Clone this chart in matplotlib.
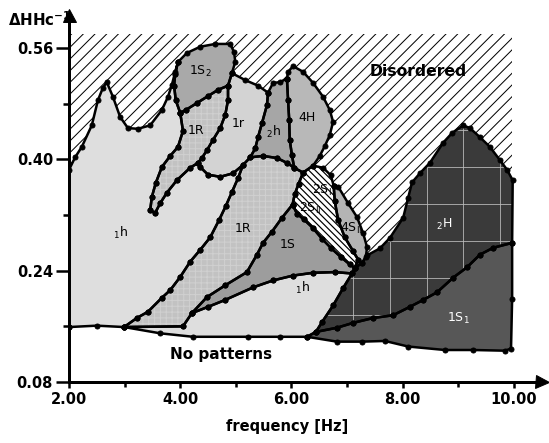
import numpy as np
import matplotlib
matplotlib.use('Agg')
import matplotlib.pyplot as plt
from matplotlib.patches import Polygon, Rectangle

DPI = 70


def px(v):
    # pixel size -> points at this dpi
    return v * 72 / DPI


# region outlines as (frequency [Hz], dH/Hc)
h1_left = [(2.00, 0.159), (2.00, 0.385), (2.11, 0.403), (2.23, 0.418), (2.41, 0.449), (2.52, 0.485),
           (2.61, 0.503), (2.68, 0.511), (2.79, 0.490), (2.92, 0.461), (3.06, 0.445), (3.24, 0.444),
           (3.46, 0.449), (3.67, 0.471), (3.78, 0.490), (3.85, 0.507), (3.91, 0.526), (3.96, 0.540),
           (3.91, 0.523), (3.89, 0.506), (3.92, 0.485), (4.00, 0.467),
           (4.05, 0.441), (3.96, 0.418), (3.82, 0.405), (3.67, 0.389), (3.56, 0.366), (3.49, 0.346),
           (3.46, 0.327), (3.55, 0.323), (3.64, 0.337), (3.76, 0.352), (3.94, 0.370), (4.18, 0.388),
           (4.32, 0.395), (4.36, 0.389), (4.50, 0.378), (4.72, 0.375), (4.95, 0.380), (5.13, 0.392),
           (5.04, 0.373), (4.93, 0.353), (4.82, 0.333), (4.70, 0.313), (4.54, 0.288), (4.36, 0.270),
           (4.18, 0.253), (4.00, 0.231), (3.82, 0.212), (3.67, 0.201), (3.42, 0.181), (3.22, 0.172),
           (2.99, 0.159), (2.50, 0.161)]

s1_2 = [(3.96, 0.540), (4.12, 0.553), (4.36, 0.562), (4.63, 0.566), (4.90, 0.566), (4.97, 0.554),
        (4.99, 0.540), (4.93, 0.524), (4.86, 0.506), (4.68, 0.500), (4.50, 0.491), (4.30, 0.481),
        (4.10, 0.471), (4.00, 0.467), (3.92, 0.485), (3.89, 0.506), (3.91, 0.523)]

r1_up = [(4.00, 0.467), (4.10, 0.471), (4.30, 0.481), (4.50, 0.491), (4.68, 0.500), (4.86, 0.506),
         (4.86, 0.485), (4.81, 0.464), (4.72, 0.445), (4.59, 0.428), (4.48, 0.413), (4.39, 0.402),
         (4.32, 0.395), (4.18, 0.388), (3.94, 0.370), (3.76, 0.352), (3.64, 0.337), (3.55, 0.323),
         (3.46, 0.327), (3.49, 0.346), (3.56, 0.366), (3.67, 0.389), (3.82, 0.405), (3.96, 0.418),
         (4.05, 0.441)]

r1_small = [(4.93, 0.524), (5.17, 0.514), (5.40, 0.506), (5.58, 0.496), (5.56, 0.478), (5.47, 0.452),
            (5.40, 0.432), (5.35, 0.416), (5.26, 0.403), (5.13, 0.392), (4.95, 0.380), (4.72, 0.375),
            (4.50, 0.378), (4.36, 0.389), (4.32, 0.395), (4.39, 0.402), (4.48, 0.413), (4.59, 0.428),
            (4.72, 0.445), (4.81, 0.464), (4.86, 0.485), (4.86, 0.506)]

h2_small = [(5.58, 0.496), (5.67, 0.510), (5.79, 0.511), (5.92, 0.516), (5.94, 0.485), (5.96, 0.457),
            (5.97, 0.428), (6.01, 0.406), (6.05, 0.388), (5.92, 0.395), (5.74, 0.402), (5.49, 0.405),
            (5.26, 0.403), (5.35, 0.416), (5.40, 0.432), (5.47, 0.452), (5.56, 0.478)]

h4 = [(5.92, 0.516), (5.94, 0.526), (6.03, 0.534), (6.21, 0.526), (6.39, 0.510), (6.57, 0.490),
      (6.69, 0.471), (6.75, 0.454), (6.69, 0.435), (6.60, 0.419), (6.51, 0.405), (6.39, 0.391),
      (6.21, 0.381), (6.05, 0.388), (6.01, 0.406), (5.97, 0.428), (5.96, 0.457), (5.94, 0.485)]

r1_low = [(2.99, 0.159), (3.22, 0.172), (3.42, 0.181), (3.67, 0.201), (3.82, 0.212), (4.00, 0.231),
          (4.18, 0.253), (4.36, 0.270), (4.54, 0.288), (4.70, 0.313), (4.82, 0.333), (4.93, 0.353),
          (5.04, 0.373), (5.13, 0.392), (5.26, 0.403), (5.49, 0.405), (5.74, 0.402), (5.92, 0.395),
          (6.05, 0.388), (6.21, 0.381), (6.13, 0.365), (6.06, 0.350), (6.02, 0.335), (5.83, 0.316),
          (5.65, 0.296), (5.49, 0.280), (5.38, 0.263), (5.20, 0.238), (4.81, 0.219), (4.48, 0.202),
          (4.21, 0.179), (4.05, 0.160)]

s1 = [(4.21, 0.179), (4.48, 0.202), (4.81, 0.219), (5.20, 0.238), (5.38, 0.263), (5.49, 0.280),
      (5.65, 0.296), (5.83, 0.316), (6.02, 0.335), (6.10, 0.322), (6.22, 0.314), (6.38, 0.302),
      (6.55, 0.286), (6.72, 0.272), (6.90, 0.259), (7.05, 0.249), (7.14, 0.244), (7.09, 0.236),
      (6.78, 0.238), (6.39, 0.237), (6.03, 0.233), (5.67, 0.226), (5.31, 0.216), (4.81, 0.198),
      (4.50, 0.188)]

s2 = [(6.02, 0.335), (6.06, 0.350), (6.13, 0.365), (6.21, 0.381), (6.39, 0.391), (6.57, 0.388),
      (6.71, 0.377), (6.76, 0.362), (6.78, 0.340), (6.84, 0.313), (6.96, 0.288), (7.11, 0.268),
      (7.20, 0.256), (7.14, 0.244), (7.05, 0.249), (6.90, 0.259), (6.72, 0.272), (6.55, 0.286),
      (6.38, 0.302), (6.22, 0.314), (6.10, 0.322)]

s4 = [(6.76, 0.362), (6.84, 0.361), (7.02, 0.337), (7.18, 0.317), (7.29, 0.294), (7.36, 0.274),
      (7.34, 0.260), (7.27, 0.251), (7.14, 0.244), (7.20, 0.256), (7.11, 0.268), (6.96, 0.288),
      (6.84, 0.313), (6.78, 0.340)]

h2_big = [(6.44, 0.152), (6.55, 0.166), (6.75, 0.190), (6.93, 0.215), (7.09, 0.236), (7.14, 0.244),
          (7.27, 0.251), (7.36, 0.262), (7.59, 0.272), (7.77, 0.287), (8.01, 0.316), (8.10, 0.345),
          (8.17, 0.367), (8.31, 0.380), (8.49, 0.395), (8.73, 0.424), (8.89, 0.438), (9.09, 0.449),
          (9.21, 0.445), (9.39, 0.432), (9.57, 0.418), (9.75, 0.399), (9.88, 0.385), (9.98, 0.370),
          (9.97, 0.280), (9.63, 0.273), (9.39, 0.263), (9.16, 0.245), (8.91, 0.230), (8.62, 0.209),
          (8.37, 0.198), (8.13, 0.188), (7.83, 0.176), (7.47, 0.172), (7.11, 0.165), (6.82, 0.158)]

s1_1 = [(6.28, 0.145), (6.44, 0.152), (6.82, 0.158), (7.11, 0.165), (7.47, 0.172), (7.83, 0.176),
        (8.13, 0.188), (8.37, 0.198), (8.62, 0.209), (8.91, 0.230), (9.16, 0.245), (9.39, 0.263),
        (9.63, 0.273), (9.97, 0.280), (9.97, 0.200), (9.95, 0.128), (9.84, 0.125), (9.27, 0.126),
        (8.76, 0.126), (8.10, 0.131), (7.68, 0.139), (7.27, 0.138), (6.82, 0.138)]

h1_low = [(2.99, 0.159), (4.05, 0.160), (4.21, 0.179), (4.50, 0.188), (4.81, 0.198), (5.31, 0.216),
          (5.67, 0.226), (6.03, 0.233), (6.39, 0.237), (6.78, 0.238), (7.09, 0.236), (6.93, 0.215),
          (6.75, 0.190), (6.55, 0.166), (6.44, 0.152), (6.28, 0.145), (5.80, 0.145), (5.22, 0.145),
          (4.23, 0.145), (3.64, 0.150)]

# label text and position
labels = ['$_1$h', '1R', '1S$_2$', '1r', '$_2$h', '4H', '1R', '1S', '2S$_{\\rm I}$', '2S$_{\\rm II}$',
          '4S$_{\\rm II}$', '$_1$h']
label_f = [2.92, 4.28, 4.37, 5.04, 5.67, 6.28, 5.13, 5.94, 6.55, 6.33, 7.07, 6.19]
label_h = [0.294, 0.442, 0.526, 0.451, 0.439, 0.460, 0.301, 0.277, 0.355, 0.330, 0.301, 0.215]
dark_labels = ['$_2$H', '1S$_1$']
dark_f = [8.74, 9.00]
dark_h = [0.307, 0.172]

x_ticks = [2, 4, 6, 8, 10]
x_minor = [3, 5, 7, 9]
y_ticks = [0.08, 0.24, 0.40, 0.56]
y_minor = [0.16, 0.32, 0.48]

plt.rcParams['hatch.linewidth'] = px(1.0)
plt.rcParams['font.family'] = 'DejaVu Sans'

fig = plt.figure(figsize=(549 / DPI, 443 / DPI), dpi=DPI)
ax = fig.add_axes([69 / 549, 61 / 443, 473 / 549, 367 / 443])
ax.set_xlim(2.0, 10.507)
ax.set_ylim(0.08, 0.6076)

# one pixel in data units, for 45 degree hatch lines
fx = (10.507 - 2.0) / 473
fy = (0.6076 - 0.08) / 367


def hatch_lines(patch, step_px, sign, lw, z):
    # diagonal lines at 45 degrees on screen, clipped to the patch
    k = sign * fy / fx
    for c in np.arange(-8.0, 18.0, step_px * fx):
        ln, = ax.plot([0.0, 12.0], [0.08 + k * (0.0 - c), 0.08 + k * (12.0 - c)],
                      color='black', lw=lw, zorder=z, solid_capstyle='butt')
        ln.set_clip_path(patch)


# disordered background
dis = Rectangle((2.0, 0.165), 7.96, 0.415, facecolor='white', lw=0, zorder=1)
ax.add_patch(dis)
hatch_lines(dis, 11.7, 1, px(1.0), 1.2)


def region(pts, face, hatch=None, hcolor='black'):
    p = Polygon(pts, closed=True, facecolor=face, edgecolor=hcolor if hatch else face,
                hatch=hatch, lw=0, zorder=2)
    ax.add_patch(p)
    xs = [q[0] for q in pts] + [pts[0][0]]
    ys = [q[1] for q in pts] + [pts[0][1]]
    ax.plot(xs, ys, color='black', lw=px(2.5), marker='o', ms=px(5), zorder=3)
    return p


region(h1_left, '#dedede')
region(h1_low, '#dedede')
region(r1_low, '#c2c2c2', '++', '#d0d0d0')
region(r1_up, '#c2c2c2', '++', '#d0d0d0')
region(s1_2, '#a9a9a9')
region(r1_small, '#d3d3d3')
region(h2_small, '#a6a6a6')
region(h4, '#b8b8b8')
region(s1, '#9d9d9d')
p2S = region(s2, 'white')
hatch_lines(p2S, 6.5, -1, px(1.2), 2.2)
region(s4, '#b4b4b4')
p2H = region(h2_big, '#3a3a3a')
region(s1_1, '#575757')

# light grid inside 2H
for gx in np.arange(7.10, 10.0, 0.665):
    ax.axvline(gx, color='#bdbdbd', lw=px(0.8), zorder=2.5, clip_path=p2H)
for gy in np.arange(0.177, 0.45, 0.053):
    ax.axhline(gy, color='#bdbdbd', lw=px(0.8), zorder=2.5, clip_path=p2H)

for s, x, y in zip(labels, label_f, label_h):
    ax.text(x, y, s, ha='center', va='center', fontsize=px(12.5), color='black', zorder=4)
for s, x, y in zip(dark_labels, dark_f, dark_h):
    ax.text(x, y, s, ha='center', va='center', fontsize=px(12.5), color='white', zorder=4)

ax.text(8.28, 0.526, 'Disordered', ha='center', va='center', fontsize=px(15.6),
        fontweight='bold', zorder=4)
ax.text(4.73, 0.119, 'No patterns', ha='center', va='center', fontsize=px(15.2),
        fontweight='bold', zorder=4)

# axes
for side in ['top', 'right']:
    ax.spines[side].set_visible(False)
for side in ['left', 'bottom']:
    ax.spines[side].set_linewidth(px(3))
    ax.spines[side].set_zorder(5)
ax.set_xticks(x_ticks)
ax.set_xticklabels(['%.2f' % v for v in x_ticks])
ax.set_xticks(x_minor, minor=True)
ax.set_yticks(y_ticks)
ax.set_yticklabels(['%.2f' % v for v in y_ticks])
ax.set_yticks(y_minor, minor=True)
ax.tick_params(axis='both', which='both', direction='out', width=px(2.5), labelsize=px(14.6))
ax.tick_params(axis='x', which='major', length=px(6), pad=px(4))
ax.tick_params(axis='x', which='minor', length=px(5))
ax.tick_params(axis='y', which='major', length=px(13), pad=px(3))
ax.tick_params(axis='y', which='minor', length=px(6))
for lab in ax.get_xticklabels() + ax.get_yticklabels():
    lab.set_fontweight('bold')

ax.plot(1, 0, marker='>', color='black', ms=px(13), transform=ax.transAxes, clip_on=False, zorder=6)
ax.plot(0, 1, marker='^', color='black', ms=px(13), transform=ax.transAxes, clip_on=False, zorder=6)

fig.text(8 / 549, 1 - 20 / 443, r'ΔHHc$^{\mathbf{-1}}$', fontsize=px(15), fontweight='bold',
         ha='left', va='center')
fig.text(287 / 549, 1 - 427 / 443, 'frequency [Hz]', fontsize=px(14.6), fontweight='bold',
         ha='center', va='center')

fig.savefig('out.png', dpi=DPI)
